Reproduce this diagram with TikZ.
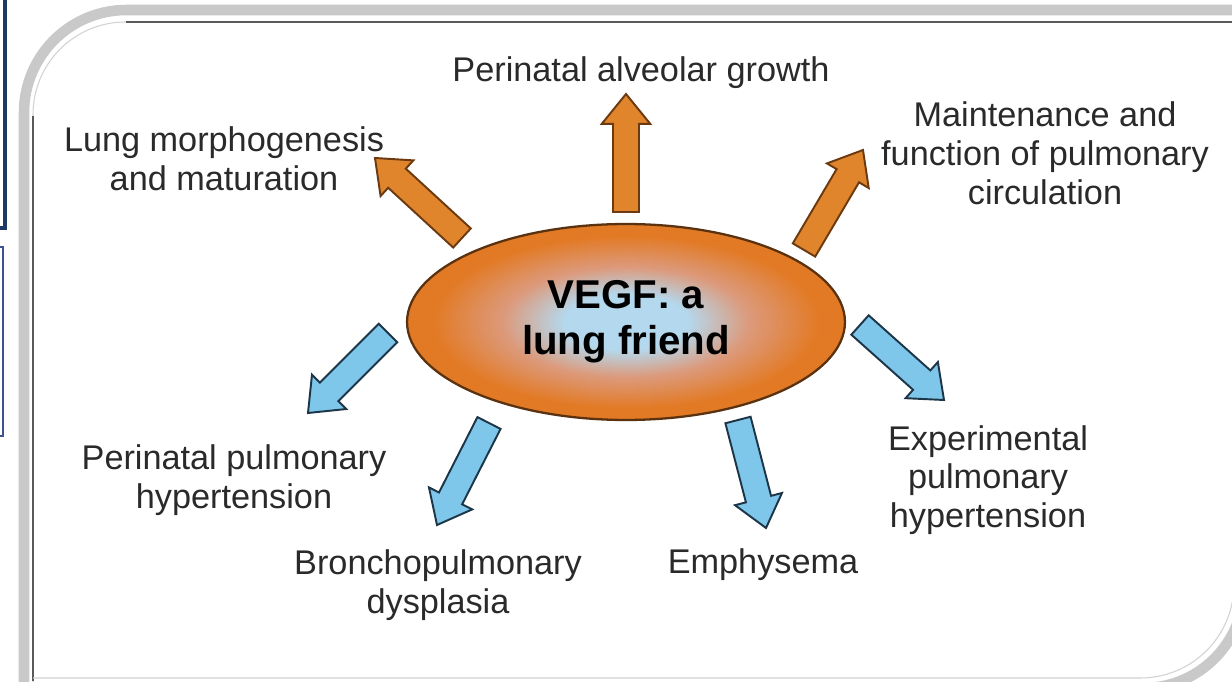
\documentclass[tikz,border=0pt]{standalone}
\usepackage{fontspec}
\setmainfont{Liberation Sans}
\usetikzlibrary{calc,shapes.geometric}
\definecolor{orfill}{HTML}{E0852C}
\definecolor{ordraw}{HTML}{6B3A10}
\definecolor{blfill}{HTML}{7EC6EA}
\definecolor{bldraw}{HTML}{1C3547}
\definecolor{navyA}{HTML}{1C3A63}
\definecolor{navyB}{HTML}{3E5290}
\definecolor{lbl}{HTML}{2A2A2A}
\definecolor{ellout}{HTML}{E27A25}
\definecolor{ellmid}{HTML}{DC9A7C}
\definecolor{ellin}{HTML}{B4D9EE}
\definecolor{ellline}{HTML}{5A3210}
\pgfdeclareradialshading{vegfshade}{\pgfpoint{0bp}{0bp}}{%
  color(0bp)=(ellin); color(7bp)=(ellin); color(14bp)=(ellmid);
  color(22bp)=(ellout); color(50bp)=(ellout)}
\newcommand\shaftw{7.4pt}
\newcommand\headw{13.8pt}
\newcommand\headlen{17pt}
\newcommand\blockarrow[3]{%
  \coordinate (ba-h) at ($(#3)!\headlen!(#2)$);
  \path[#1] ($(#2)!\shaftw!90:(#3)$) -- ($(ba-h)!\shaftw!90:(#3)$)
    -- ($(ba-h)!\headw!90:(#3)$) -- (#3) -- ($(ba-h)!\headw!-90:(#3)$)
    -- ($(ba-h)!\shaftw!-90:(#3)$) -- ($(#2)!\shaftw!-90:(#3)$) -- cycle;}
\tikzset{
  orarrow/.style={fill=orfill, draw=ordraw, line width=1.1pt, line join=miter},
  blarrow/.style={fill=blfill, draw=bldraw, line width=1.1pt, line join=miter},
  lab/.style={text=lbl, align=center, inner sep=0pt,
    font=\fontsize{19.5pt}{22.1pt}\selectfont},
  band/.style={draw=gray!42, line width=6pt},
  darkline/.style={draw=black!65, line width=1.3pt},
  thinline/.style={draw=gray!35, line width=0.6pt},
}
\begin{document}
\begin{tikzpicture}[x=0.02cm, y=-0.02cm]
\useasboundingbox (0,0) rectangle (1232,682);
\clip (0,0) rectangle (1232,682);
\fill[white] (0,0) rectangle (1232,682);
% left partial boxes
\draw[navyA, line width=1.8pt] (-20,-10) rectangle (5,228);
\draw[navyB, line width=1.2pt] (-20,247) rectangle (3,436);
% frame
\draw[band, rounded corners=58.4pt] (24,700) -- (24,10) -- (1260,10);
\draw[thinline, rounded corners=52.7pt] (33,690) -- (33,22) -- (1260,22);
\draw[darkline] (33,681) -- (33,116);
\draw[darkline] (126,22) -- (1240,22);
\draw[thinline, rounded corners=53.3pt] (33,678) -- (1234,678) -- (1234,22);
\draw[band, rounded corners=57.3pt] (800,688) -- (1244,688) -- (1244,300);
% arrows
\coordinate (o1t) at (462,238); \coordinate (o1h) at (375,158);
\coordinate (o2t) at (626,212); \coordinate (o2h) at (626,94);
\coordinate (o3t) at (804,250); \coordinate (o3h) at (863,150);
\coordinate (b1t) at (388,333); \coordinate (b1h) at (308,413);
\coordinate (b2t) at (489,423); \coordinate (b2h) at (437,525);
\coordinate (b3t) at (738,420); \coordinate (b3h) at (766,528);
\coordinate (b4t) at (860,325); \coordinate (b4h) at (944,400);
\blockarrow{orarrow}{o1t}{o1h}
\blockarrow{orarrow}{o2t}{o2h}
\blockarrow{orarrow}{o3t}{o3h}
\blockarrow{blarrow}{b1t}{b1h}
\blockarrow{blarrow}{b2t}{b2h}
\blockarrow{blarrow}{b3t}{b3h}
\blockarrow{blarrow}{b4t}{b4h}
% central ellipse
\node[ellipse, draw=ellline, line width=1.3pt, shading=vegfshade,
  minimum width=8.76cm, minimum height=3.92cm, inner sep=0pt, align=center,
  font=\fontsize{22.9pt}{26pt}\selectfont\bfseries] (vegf) at (626,322)
  {VEGF: a\\lung friend};
% labels
\node[lab] (pag) at (641,73) {Perinatal alveolar growth};
\node[lab] (lmm) at (224,159) {Lung morphogenesis\\and maturation};
\node[lab] (mfp) at (1045,153) {Maintenance and\\function of pulmonary\\circulation};
\node[lab] (pph) at (234,480) {Perinatal pulmonary\\hypertension};
\node[lab] (bpd) at (438,585) {Bronchopulmonary\\dysplasia};
\node[lab] (emp) at (763,565) {Emphysema};
\node[lab] (eph) at (988,480) {Experimental\\pulmonary\\hypertension};
\end{tikzpicture}
\end{document}
